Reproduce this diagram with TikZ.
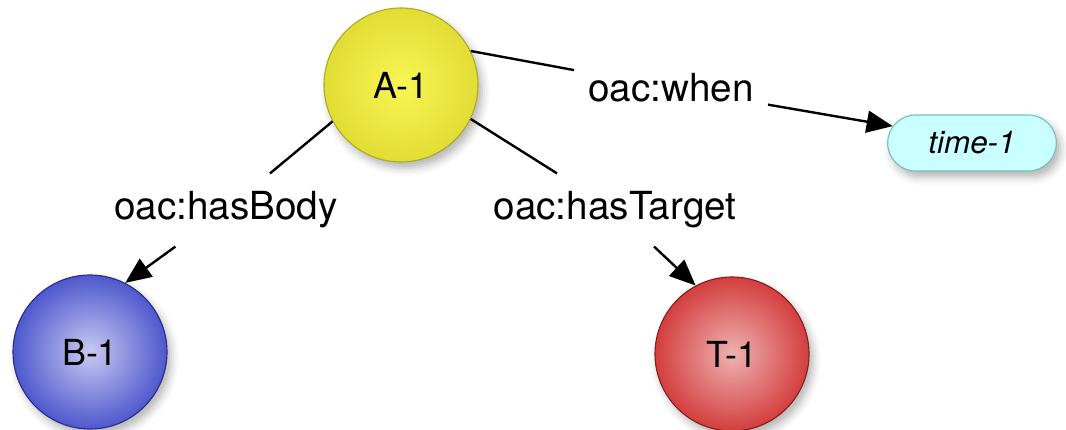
\documentclass[tikz,border=0pt]{standalone}
\usepackage{fontspec}
\setmainfont{TeX Gyre Heros}
\usetikzlibrary{arrows.meta,shadows,shadows.blur,shapes.misc}

\definecolor{annocore}{RGB}{248,245,85}
\definecolor{annoedge}{RGB}{226,221,52}
\definecolor{annoline}{RGB}{175,170,40}
\definecolor{bodycore}{RGB}{200,202,242}
\definecolor{bodyedge}{RGB}{78,88,205}
\definecolor{bodyline}{RGB}{40,45,140}
\definecolor{targcore}{RGB}{238,178,178}
\definecolor{targedge}{RGB}{212,62,62}
\definecolor{targline}{RGB}{135,30,30}
\definecolor{timefill}{RGB}{202,255,255}
\definecolor{timeline}{RGB}{120,190,190}

\begin{document}
\begin{tikzpicture}[
    res/.style={circle, draw, line width=0.8pt, minimum size=3.85cm, inner sep=0pt,
        font=\fontsize{25.5}{30}\selectfont,
        blur shadow={shadow xshift=0.1cm, shadow yshift=-0.15cm, shadow blur radius=0.2cm, shadow opacity=30}},
    prop/.style={fill=white, inner xsep=0.35cm, inner ysep=0.45cm, font=\fontsize{27.5}{32}\selectfont},
    link/.style={line width=1.7pt},
    arr/.style={link, -{Triangle[length=0.65cm,width=0.55cm]}}
]
    \useasboundingbox (0,0) rectangle (26.65,-10.75);

    % resources
        \node[res, draw=annoline, inner color=annocore, outer color=annoedge] (A) at (10.025,-2.125) {A-1};
        \node[res, draw=bodyline, inner color=bodycore, outer color=bodyedge] (B) at (2.25,-8.8) {B-1};
        \node[res, draw=targline, inner color=targcore, outer color=targedge] (T) at (18.3,-8.85) {T-1};
        \node[rounded rectangle, draw=timeline, line width=0.8pt, fill=timefill,
            minimum width=4.45cm, minimum height=1.4cm,
            font=\fontsize{22.3}{26}\selectfont\itshape,
            blur shadow={shadow xshift=0.1cm, shadow yshift=-0.15cm, shadow blur radius=0.2cm, shadow opacity=30}]
            (time) at (24.3,-3.575) {time-1};

    % property labels
        \node[prop] (when) at (16.775,-2.2) {oac:when};
        \node[prop] (body) at (5.65,-5.25) {oac:hasBody};
        \node[prop] (target) at (15.375,-5.25) {oac:hasTarget};

    % connectors
    \draw[link] (A.26) -- (when);
    \draw[arr] (when) -- (time.168);
    \draw[link] (A.208) -- (body);
    \draw[arr] (body) -- (B.63);
    \draw[link] (A.334) -- (target);
    \draw[arr] (target) -- (T.118);

\end{tikzpicture}
\end{document}
